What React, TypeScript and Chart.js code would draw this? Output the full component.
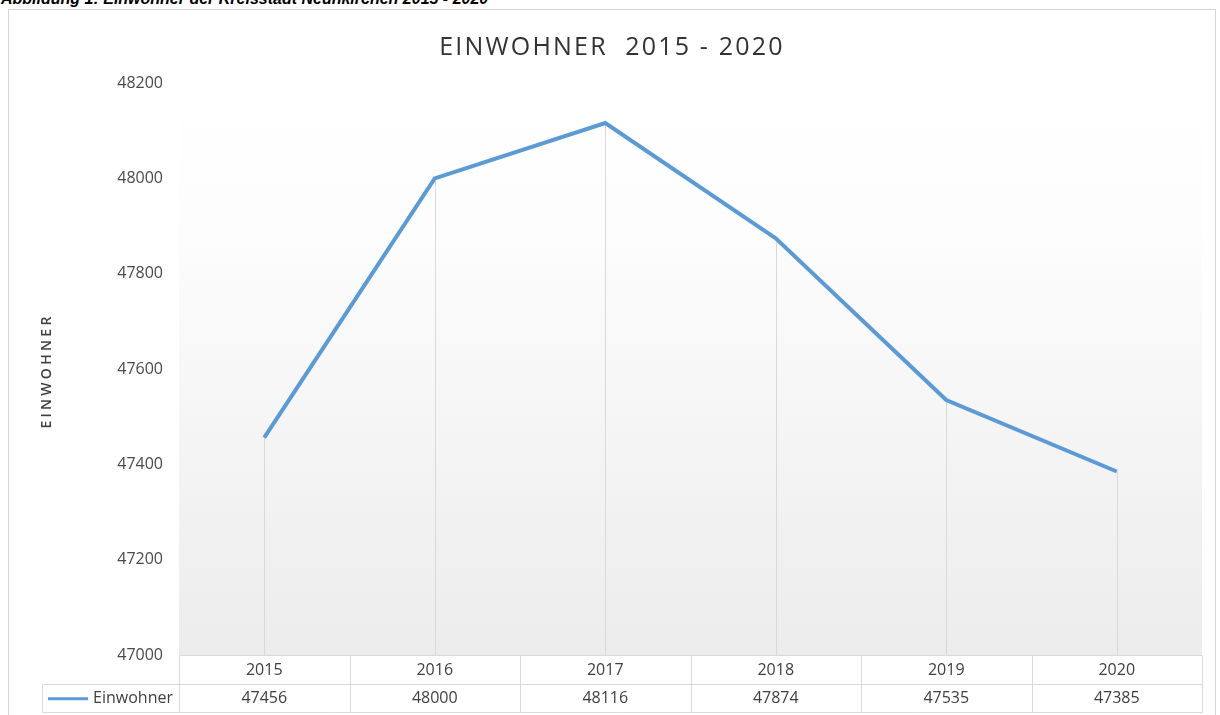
import React, { useEffect, useRef } from "react";
import { Chart, registerables } from "chart.js";

Chart.register(...registerables);

const categories = ["2015", "2016", "2017", "2018", "2019", "2020"];
const einwohner = [47456, 48000, 48116, 47874, 47535, 47385];
const seriesName = "Einwohner";
const yMin = 47000;
const yMax = 48200;
const yStep = 200;

const FONT = "'Open Sans', 'DejaVu Sans', sans-serif";
const LINE_COLOR = "#5b9bd5";
const GRID_COLOR = "#d9d9d9";
const TEXT_COLOR = "#404040";

const extrasPlugin = {
  id: "excelExtras",
  beforeDraw(chart: any) {
    const { ctx, chartArea: a } = chart;
    const g = ctx.createLinearGradient(0, a.top, 0, a.bottom);
    g.addColorStop(0, "#ffffff");
    g.addColorStop(0.24, "#fdfdfd");
    g.addColorStop(1, "#ececec");
    ctx.save();
    ctx.fillStyle = g;
    ctx.fillRect(a.left, a.top, a.right - a.left, a.bottom - a.top);
    ctx.restore();
  },
  beforeDatasetsDraw(chart: any) {
    const { ctx, chartArea: a } = chart;
    const meta = chart.getDatasetMeta(0);
    ctx.save();
    ctx.strokeStyle = GRID_COLOR;
    ctx.lineWidth = 1;
    meta.data.forEach((pt: any) => {
      const x = Math.round(pt.x) + 0.5;
      ctx.beginPath();
      ctx.moveTo(x, pt.y);
      ctx.lineTo(x, a.bottom);
      ctx.stroke();
    });
    ctx.restore();
  },
  afterDraw(chart: any) {
    const { ctx, chartArea: a } = chart;
    const xs = chart.scales.x;
    const rowH = 28.5;
    const top = a.bottom;
    const mid = top + rowH;
    const bot = top + rowH * 2;
    const labelLeft = 33;
    const centers = categories.map((_, i) => xs.getPixelForValue(i));
    const bounds: number[] = [a.left];
    for (let i = 0; i < centers.length - 1; i++) bounds.push((centers[i] + centers[i + 1]) / 2);
    bounds.push(a.right);
    const px = (v: number) => Math.round(v) + 0.5;
    ctx.save();
    ctx.strokeStyle = GRID_COLOR;
    ctx.lineWidth = 1;
    ctx.beginPath();
    ctx.moveTo(px(a.left), px(top));
    ctx.lineTo(px(a.right), px(top));
    ctx.moveTo(px(labelLeft), px(mid));
    ctx.lineTo(px(a.right), px(mid));
    ctx.moveTo(px(labelLeft), px(bot));
    ctx.lineTo(px(a.right), px(bot));
    ctx.moveTo(px(labelLeft), px(mid));
    ctx.lineTo(px(labelLeft), px(bot));
    bounds.forEach((b) => {
      ctx.moveTo(px(b), px(top));
      ctx.lineTo(px(b), px(bot));
    });
    ctx.stroke();

    ctx.fillStyle = TEXT_COLOR;
    ctx.font = `16px ${FONT}`;
    ctx.textAlign = "center";
    ctx.textBaseline = "middle";
    categories.forEach((c, i) => {
      ctx.fillText(c, centers[i], top + rowH / 2 + 1);
      ctx.fillText(String(einwohner[i]), centers[i], mid + rowH / 2 + 1);
    });
    ctx.textAlign = "right";
    ctx.fillText(seriesName, a.left - 6, mid + rowH / 2 + 1);
    ctx.strokeStyle = LINE_COLOR;
    ctx.lineWidth = 3;
    ctx.beginPath();
    ctx.moveTo(labelLeft + 6, mid + rowH / 2 + 1);
    ctx.lineTo(labelLeft + 46, mid + rowH / 2 + 1);
    ctx.stroke();
    ctx.restore();
  },
};

export default function App() {
  const canvasRef = useRef<HTMLCanvasElement | null>(null);

  useEffect(() => {
    if (!canvasRef.current) return;
    const chart = new Chart(canvasRef.current, {
      type: "line",
      data: {
        labels: categories,
        datasets: [
          {
            label: seriesName,
            data: einwohner,
            borderColor: LINE_COLOR,
            borderWidth: 4,
            pointRadius: 0,
            pointHoverRadius: 0,
            tension: 0,
            fill: false,
          },
        ],
      },
      options: {
        animation: false,
        responsive: true,
        maintainAspectRatio: false,
        layout: { padding: { left: 0, right: 13, top: 73, bottom: 60 } },
        plugins: {
          legend: { display: false },
          title: { display: false },
          tooltip: { enabled: false },
        },
        scales: {
          x: {
            type: "category",
            display: false,
            offset: true,
          },
          y: {
            min: yMin,
            max: yMax,
            afterFit(scale: any) {
              scale.width = 170;
            },
            grid: { display: false, drawTicks: false },
            border: { display: false },
            ticks: {
              stepSize: yStep,
              padding: 16,
              color: "#4a4a4a",
              font: { family: FONT, size: 16 },
              callback: (v: any) => String(v),
            },
          },
        },
      },
      plugins: [extrasPlugin],
    });
    return () => chart.destroy();
  }, []);

  return (
    <div style={{ position: "absolute", left: 0, top: 0, width: 1220, height: 715, overflow: "hidden", background: "#fff" }}>
      <div
        style={{
          position: "absolute",
          left: 1,
          top: -10,
          fontFamily: "'Liberation Sans', Arial, sans-serif",
          fontWeight: "bold",
          fontStyle: "italic",
          fontSize: 16,
          lineHeight: "17px",
          color: "#000",
          whiteSpace: "nowrap",
        }}
      >
        Abbildung 1: Einwohner der Kreisstadt Neunkirchen 2015 - 2020
      </div>
      <div
        style={{
          position: "absolute",
          left: 8,
          top: 9,
          width: 1208,
          height: 706,
          boxSizing: "border-box",
          border: "1px solid #d4d4d4",
          borderBottom: "none",
          background: "#fff",
        }}
      >
        <div style={{ position: "absolute", left: 0, top: 0, width: 1206, height: 705 }}>
          <canvas ref={canvasRef} />
        </div>
        <div
          style={{
            position: "absolute",
            left: 0,
            width: 1206,
            top: 20,
            textAlign: "center",
            fontFamily: FONT,
            fontSize: 25,
            lineHeight: "30px",
            letterSpacing: "2.2px",
            color: "#333333",
            whiteSpace: "pre",
          }}
        >
          {"EINWOHNER  2015 - 2020"}
        </div>
        <div
          style={{
            position: "absolute",
            left: 37 - 100,
            top: 361 - 10,
            width: 200,
            height: 20,
            lineHeight: "20px",
            textAlign: "center",
            transform: "rotate(-90deg)",
            fontFamily: FONT,
            fontWeight: 600,
            fontSize: 14,
            letterSpacing: "3.3px",
            color: TEXT_COLOR,
            whiteSpace: "nowrap",
          }}
        >
          EINWOHNER
        </div>
      </div>
    </div>
  );
}
